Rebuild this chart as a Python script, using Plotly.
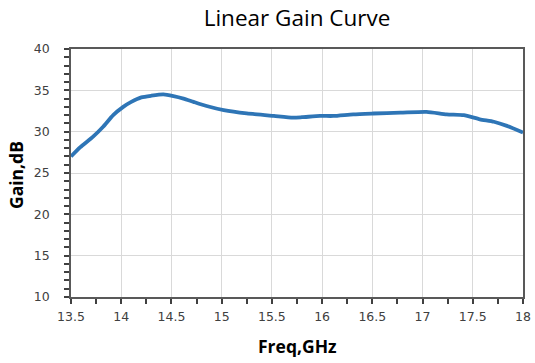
import plotly.graph_objects as go

freq = [13.5, 13.59, 13.72, 13.82, 13.92, 14.02, 14.10, 14.20, 14.30, 14.42, 14.52, 14.62, 14.72, 14.85,
        15.02, 15.25, 15.52, 15.71, 15.80, 15.98, 16.11, 16.31, 16.51, 16.78, 17.04, 17.24, 17.41,
        17.57, 17.71, 17.84, 18.0]
gain = [27.0, 28.1, 29.4, 30.6, 32.0, 33.0, 33.6, 34.15, 34.35, 34.5, 34.3, 34.0, 33.6, 33.1,
        32.6, 32.2, 31.9, 31.7, 31.75, 31.9, 31.9, 32.1, 32.2, 32.3, 32.4, 32.1, 32.0,
        31.5, 31.2, 30.7, 29.9]

x_ticks = [13.5, 14, 14.5, 15, 15.5, 16, 16.5, 17, 17.5, 18]
x_tick_labels = ["13.5", "14", "14.5", "15", "15.5", "16", "16.5", "17", "17.5", "18"]
y_ticks = [10, 15, 20, 25, 30, 35, 40]

W, H = 535, 363
L, R, T, B = 71, 12, 49, 66
PW, PH = W - L - R, H - T - B

fig = go.Figure()
fig.add_trace(go.Scatter(x=freq, y=gain, mode="lines",
                         line=dict(color="#2E75B6", width=3.8, shape="spline", smoothing=0.6),
                         showlegend=False))

tick_font = dict(family="DejaVu Sans", size=12.5, color="#404040")
fig.update_layout(
    width=W, height=H,
    margin=dict(l=L, r=R, t=T, b=B, autoexpand=False),
    paper_bgcolor="white", plot_bgcolor="white",
    title=dict(text="Linear Gain Curve", x=297 / W, xanchor="center", y=1 - 18 / H, yanchor="middle",
               font=dict(family="Open Sans", size=22.5, color="#000000")),
    xaxis=dict(range=[13.5, 18], tickvals=x_ticks, ticktext=x_tick_labels,
               showgrid=True, gridcolor="#d9d9d9", gridwidth=1,
               showline=True, linecolor="#595959", linewidth=1.5, mirror=True,
               ticks="outside", ticklen=5, tickcolor="#404040", tickwidth=1.5,
               minor=dict(dtick=0.25, tick0=13.5, ticks="outside", ticklen=5, tickcolor="#404040", showgrid=False),
               tickfont=tick_font, zeroline=False, automargin=False, ticklabelstandoff=2),
    yaxis=dict(range=[10, 40], tickvals=y_ticks,
               showgrid=True, gridcolor="#d9d9d9", gridwidth=1,
               showline=True, linecolor="#595959", linewidth=1.5, mirror=True,
               ticks="outside", ticklen=5, tickcolor="#404040", tickwidth=1.5,
               minor=dict(dtick=1, tick0=10, ticks="outside", ticklen=5, tickcolor="#404040", showgrid=False),
               tickfont=tick_font, zeroline=False, automargin=False, ticklabelstandoff=12),
    annotations=[
        dict(text="<b>Freq,GHz</b>", xref="paper", yref="paper", x=0.5, y=-(346 - 297) / PH,
             xanchor="center", yanchor="middle", showarrow=False,
             font=dict(family="Open Sans", size=17.5, color="#000000")),
        dict(text="<b>Gain,dB</b>", xref="paper", yref="paper", x=(16 - L) / PW, y=(297 - 175) / PH,
             xanchor="center", yanchor="middle", textangle=-90, showarrow=False,
             font=dict(family="Open Sans", size=17.5, color="#000000")),
    ],
)

fig.write_html("out.html", config={"displayModeBar": False},
               post_script="document.body.style.margin='0';document.body.style.overflow='hidden';")
